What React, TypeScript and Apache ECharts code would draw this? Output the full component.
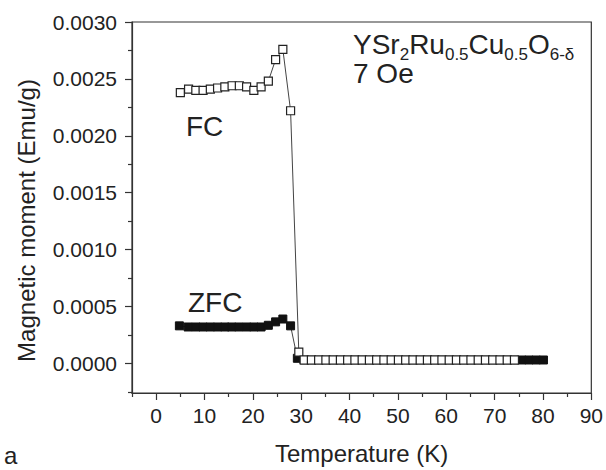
import React, { useEffect, useRef } from "react";
import * as echarts from "echarts";

// Field-cooled (open squares)
const fcTemp = [
  5.0, 6.7, 8.2, 9.7, 11.2, 12.7, 14.2, 15.7, 17.2, 18.7, 20.2, 21.7, 23.2, 24.7, 26.2, 27.8, 29.5,
  30.6, 32.1, 33.6, 35.1, 36.6, 38.1, 39.6, 41.1, 42.6, 44.1, 45.6, 47.1, 48.6, 50.1, 51.6, 53.1,
  54.6, 56.1, 57.6, 59.1, 60.6, 62.1, 63.6, 65.1, 66.6, 68.1, 69.6, 71.1, 72.6, 74.1,
];
const fcMoment = [
  0.00238, 0.00241, 0.0024, 0.0024, 0.00241, 0.00242, 0.00243, 0.00244, 0.00244, 0.00243, 0.0024,
  0.00243, 0.00248, 0.00267, 0.00276, 0.00222, 0.0001,
  0.00003, 0.00003, 0.00003, 0.00003, 0.00003, 0.00003, 0.00003, 0.00003, 0.00003, 0.00003, 0.00003,
  0.00003, 0.00003, 0.00003, 0.00003, 0.00003, 0.00003, 0.00003, 0.00003, 0.00003, 0.00003, 0.00003,
  0.00003, 0.00003, 0.00003, 0.00003, 0.00003, 0.00003, 0.00003, 0.00003,
];

// Zero-field-cooled (filled squares)
const zfcTemp = [
  4.8, 6.6, 8.2, 9.7, 11.2, 12.7, 14.2, 15.6, 17.1, 18.7, 20.2, 21.7, 23.2, 24.7, 26.2, 27.8, 29.2,
  30.6, 32.1, 33.6, 35.1, 36.6, 38.1, 39.6, 41.1, 42.6, 44.1, 45.6, 47.1, 48.6, 50.1, 51.6, 53.1,
  54.6, 56.1, 57.6, 59.1, 60.6, 62.1, 63.6, 65.1, 66.6, 68.1, 69.6, 71.1, 72.6, 74.1, 75.6, 77.1,
  78.6, 80.1,
];
const zfcMoment = [
  0.00033, 0.00032, 0.00032, 0.00032, 0.00032, 0.00032, 0.00032, 0.00032, 0.00032, 0.00032, 0.00032,
  0.00032, 0.000335, 0.000365, 0.00039, 0.00033, 0.000045,
  0.00003, 0.00003, 0.00003, 0.00003, 0.00003, 0.00003, 0.00003, 0.00003, 0.00003, 0.00003, 0.00003,
  0.00003, 0.00003, 0.00003, 0.00003, 0.00003, 0.00003, 0.00003, 0.00003, 0.00003, 0.00003, 0.00003,
  0.00003, 0.00003, 0.00003, 0.00003, 0.00003, 0.00003, 0.00003, 0.00003, 0.00003, 0.00003, 0.00003,
  0.00003,
];

const xTickValues = [0, 10, 20, 30, 40, 50, 60, 70, 80, 90];
const xMinorTickValues = [-5, 5, 15, 25, 35, 45, 55, 65, 75, 85];
const yTickValues = [0, 0.0005, 0.001, 0.0015, 0.002, 0.0025, 0.003];
const yMinorTickValues = [-0.00025, 0.00025, 0.00075, 0.00125, 0.00175, 0.00225, 0.00275];

const FONT = "'Liberation Sans', Arial, Helvetica, sans-serif";
const AXIS_COLOR = "#333";
const TEXT_COLOR = "#222";

export default function App() {
  const ref = useRef<HTMLDivElement>(null);

  useEffect(() => {
    if (!ref.current) return;
    const chart = echarts.init(ref.current, null, { renderer: "svg" });
    const axisLine = { show: true, onZero: false, lineStyle: { color: AXIS_COLOR, width: 1.2 } };
    const hiddenLine = { show: false, onZero: false };
    const tickLine = { color: AXIS_COLOR, width: 1.2 };

    chart.setOption({
      animation: false,
      backgroundColor: "#fff",
      grid: {
        left: 132,
        right: 14,
        top: 22,
        bottom: 77,
        show: true,
        borderColor: AXIS_COLOR,
        borderWidth: 1.2,
        backgroundColor: "transparent",
      },
      xAxis: [
        {
          type: "value",
          min: -5,
          max: 90,
          position: "bottom",
          axisLine,
          axisTick: { show: true, length: 7, customValues: xTickValues, lineStyle: tickLine },
          axisLabel: {
            customValues: xTickValues,
            fontSize: 21,
            fontFamily: FONT,
            color: TEXT_COLOR,
            margin: 12,
          },
          splitLine: { show: false },
          name: "Temperature (K)",
          nameLocation: "middle",
          nameGap: 48,
          nameTextStyle: { fontSize: 24, fontFamily: FONT, color: TEXT_COLOR },
        },
        {
          type: "value",
          min: -5,
          max: 90,
          position: "bottom",
          axisLine: hiddenLine,
          axisTick: { show: true, length: 4, customValues: xMinorTickValues, lineStyle: tickLine },
          axisLabel: { show: false },
          splitLine: { show: false },
        },
      ],
      yAxis: [
        {
          type: "value",
          min: -0.00026,
          max: 0.003,
          position: "left",
          axisLine,
          axisTick: { show: true, length: 7, customValues: yTickValues, lineStyle: tickLine },
          axisLabel: {
            customValues: yTickValues,
            fontSize: 21,
            fontFamily: FONT,
            color: TEXT_COLOR,
            margin: 15,
            formatter: (v: number) => v.toFixed(4),
          },
          splitLine: { show: false },
          name: "Magnetic moment (Emu/g)",
          nameLocation: "middle",
          nameGap: 94,
          nameTextStyle: { fontSize: 24, fontFamily: FONT, color: TEXT_COLOR, padding: [0, 26, 0, 0] },
        },
        {
          type: "value",
          min: -0.00026,
          max: 0.003,
          position: "left",
          axisLine: hiddenLine,
          axisTick: { show: true, length: 4, customValues: yMinorTickValues, lineStyle: tickLine },
          axisLabel: { show: false },
          splitLine: { show: false },
        },
      ],
      series: [
        {
          name: "ZFC",
          type: "line",
          xAxisIndex: 0,
          yAxisIndex: 0,
          data: zfcTemp.map((t, i) => [t, zfcMoment[i]]),
          symbol: "rect",
          symbolSize: 8,
          itemStyle: { color: "#111", borderColor: "#111", borderWidth: 1 },
          lineStyle: { color: "#444", width: 1 },
          silent: true,
          emphasis: { disabled: true },
        },
        {
          name: "FC",
          type: "line",
          xAxisIndex: 0,
          yAxisIndex: 0,
          data: fcTemp.map((t, i) => [t, fcMoment[i]]),
          symbol: "rect",
          symbolSize: 8,
          itemStyle: { color: "#fff", borderColor: "#222", borderWidth: 1.2 },
          lineStyle: { color: "#444", width: 1 },
          silent: true,
          emphasis: { disabled: true },
        },
      ],
      graphic: [
        {
          type: "text",
          x: 186,
          y: 126,
          style: { text: "FC", fontSize: 28, fontFamily: FONT, fill: TEXT_COLOR, align: "left", verticalAlign: "middle" },
        },
        {
          type: "text",
          x: 188,
          y: 302,
          style: { text: "ZFC", fontSize: 28, fontFamily: FONT, fill: TEXT_COLOR, align: "left", verticalAlign: "middle" },
        },
        {
          type: "text",
          x: 353,
          y: 44,
          style: {
            text: "{m|YSr}{s|2}{m|Ru}{s|0.5}{m|Cu}{s|0.5}{m|O}{s|6-δ}",
            align: "left",
            verticalAlign: "middle",
            fontFamily: FONT,
            fill: TEXT_COLOR,
            rich: {
              m: { fontSize: 28, fontFamily: FONT, fill: TEXT_COLOR, color: TEXT_COLOR },
              s: { fontSize: 17, fontFamily: FONT, fill: TEXT_COLOR, color: TEXT_COLOR, padding: [20, 0, 0, 0] },
            },
          },
        },
        {
          type: "text",
          x: 353,
          y: 73,
          style: { text: "7 Oe", fontSize: 28, fontFamily: FONT, fill: TEXT_COLOR, align: "left", verticalAlign: "middle" },
        },
        {
          type: "text",
          x: 4,
          y: 455,
          style: { text: "a", fontSize: 24, fontFamily: FONT, fill: TEXT_COLOR, align: "left", verticalAlign: "middle" },
        },
      ],
    });

    return () => chart.dispose();
  }, []);

  return (
    <div
      ref={ref}
      style={{ position: "fixed", left: 0, top: 0, width: 606, height: 470, background: "#fff" }}
    />
  );
}
